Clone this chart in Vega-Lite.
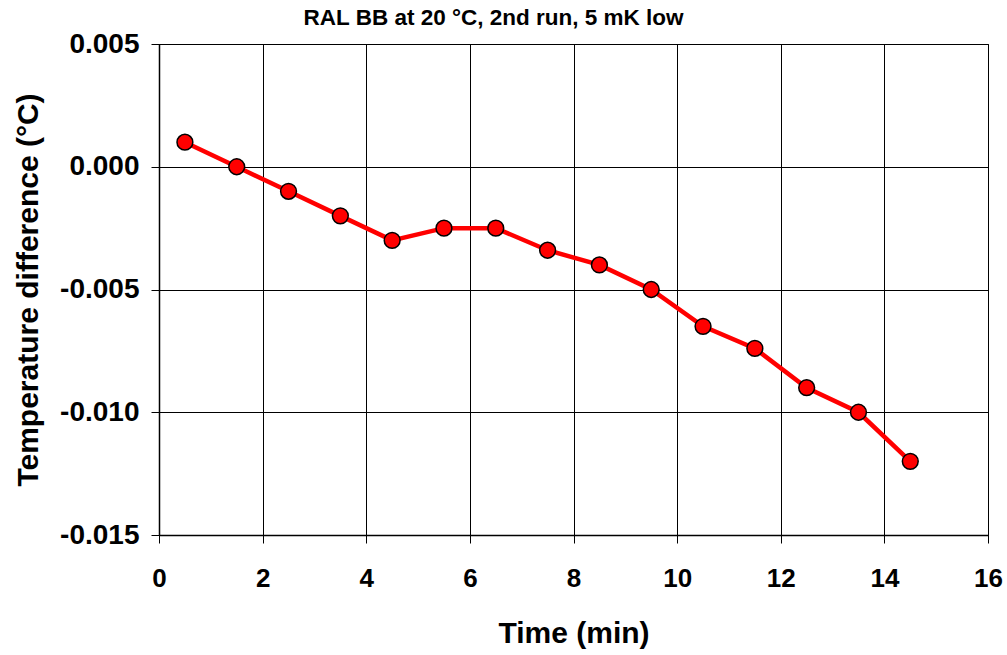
{
  "$schema": "https://vega.github.io/schema/vega-lite/v6.json",
  "width": 829,
  "height": 491,
  "autosize": "none",
  "padding": {"left": 159, "top": 44, "right": 19, "bottom": 120},
  "background": "white",
  "title": {
    "text": "RAL BB at 20 °C, 2nd run, 5 mK low",
    "font": "Liberation Sans",
    "fontWeight": "bold",
    "fontSize": 22.5,
    "color": "black",
    "anchor": "middle",
    "frame": "group",
    "dx": -80,
    "offset": 1
  },
  "data": {
    "values": [
      {"t": 0.5, "d": 0.001},
      {"t": 1.5, "d": 0.0},
      {"t": 2.5, "d": -0.001},
      {"t": 3.5, "d": -0.002},
      {"t": 4.5, "d": -0.003},
      {"t": 5.5, "d": -0.0025},
      {"t": 6.5, "d": -0.0025},
      {"t": 7.5, "d": -0.0034},
      {"t": 8.5, "d": -0.004},
      {"t": 9.5, "d": -0.005},
      {"t": 10.5, "d": -0.0065},
      {"t": 11.5, "d": -0.0074},
      {"t": 12.5, "d": -0.009},
      {"t": 13.5, "d": -0.01},
      {"t": 14.5, "d": -0.012}
    ]
  },
  "config": {
    "view": {"stroke": "black", "strokeWidth": 1},
    "axis": {
      "labelFont": "Liberation Sans",
      "labelFontWeight": "bold",
      "labelFontSize": 26,
      "labelColor": "black",
      "titleFont": "Liberation Sans",
      "titleFontWeight": "bold",
      "titleFontSize": 30,
      "titleColor": "black",
      "domainColor": "black",
      "tickColor": "black",
      "gridColor": "black",
      "gridOpacity": 1,
      "gridWidth": 1,
      "tickSize": 8,
      "domainWidth": 1.5
    }
  },
  "layer": [
    {
      "mark": {"type": "line", "color": "#FF0000", "strokeWidth": 4.5},
      "encoding": {
        "x": {
          "field": "t", "type": "quantitative",
          "scale": {"domain": [0, 16], "nice": false},
          "axis": {"values": [0, 2, 4, 6, 8, 10, 12, 14, 16], "title": "Time (min)", "labelPadding": 22, "titlePadding": 27, "labelFlush": false}
        },
        "y": {
          "field": "d", "type": "quantitative",
          "scale": {"domain": [-0.015, 0.005], "nice": false, "zero": false},
          "axis": {
            "values": [-0.015, -0.01, -0.005, 0, 0.005],
            "labelExpr": "replace(format(datum.value, '.3f'), '−', '-')",
            "labelFontSize": 28,
            "title": "Temperature difference (°C)",
            "labelPadding": 12,
            "titlePadding": 16,
            "labelFlush": false
          }
        }
      }
    },
    {
      "mark": {"type": "point", "filled": true, "fill": "#FF0000", "stroke": "black", "strokeWidth": 1.5, "size": 250, "opacity": 1},
      "encoding": {
        "x": {"field": "t", "type": "quantitative"},
        "y": {"field": "d", "type": "quantitative"}
      }
    }
  ]
}
